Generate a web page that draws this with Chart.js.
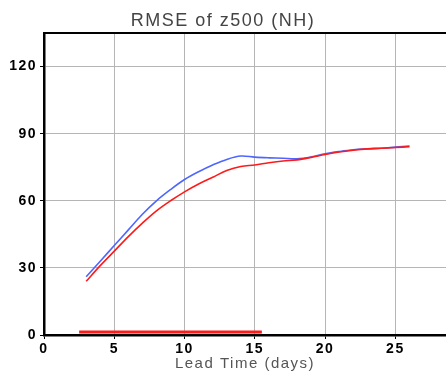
<!DOCTYPE html>
<html>
<head>
<meta charset="utf-8">
<script src="https://cdn.jsdelivr.net/npm/chart.js@4"></script>
<style>
  html, body { margin: 0; padding: 0; background: #fff; }
  #wrap { width: 446px; height: 374px; }
</style>
</head>
<body>
<div id="wrap"><canvas id="myChart" width="446" height="374"></canvas></div>
<script>
// data
const days = [3, 4, 5, 6, 7, 8, 9, 10, 11, 12, 13, 14, 15, 16, 17, 18, 19, 20, 21, 22, 23, 24, 25, 26];
const blueRmse = [26, 33, 40, 47, 54, 60, 65, 69.5, 73, 76, 78.5, 80, 79.5, 79.2, 79, 78.8, 79.6, 81, 82, 82.8, 83.2, 83.5, 84, 84.5];
const redRmse = [24, 31, 37.5, 44, 50, 55.5, 60, 64, 67.5, 70.5, 73.5, 75.3, 76, 77, 77.8, 78.3, 79.4, 80.7, 81.8, 82.6, 83.2, 83.5, 83.8, 84.2];
const baseDays = [2.5, 15.5];
const baseValues = [1.3, 1.3];
const xTicks = [0, 5, 10, 15, 20, 25];
const yTicks = [0, 30, 60, 90, 120];

const toPoints = (xs, ys) => xs.map((x, i) => ({ x: x, y: ys[i] }));

// 테두리 위쪽 선 + 글자 간격
const framePlugin = {
  id: 'frame',
  beforeDraw(chart) {
    chart.ctx.letterSpacing = '1.5px';
  },
  afterDraw(chart) {
    const { ctx, chartArea } = chart;
    ctx.save();
    ctx.strokeStyle = '#000';
    ctx.lineWidth = 2;
    ctx.beginPath();
    ctx.moveTo(chartArea.left, chartArea.top);
    ctx.lineTo(chartArea.right, chartArea.top);
    ctx.stroke();
    ctx.restore();
  }
};

document.addEventListener('DOMContentLoaded', function () {
  const ctx = document.getElementById('myChart').getContext('2d');

  const config = {
    type: 'line',
    data: {
      datasets: [
        {
          label: 'red',
          data: toPoints(days, redRmse),
          borderColor: '#ff1a1a',
          borderWidth: 1.6,
          pointRadius: 0,
          tension: 0.35,
          fill: false
        },
        {
          label: 'blue',
          data: toPoints(days, blueRmse),
          borderColor: '#4d66ff',
          borderWidth: 1.6,
          pointRadius: 0,
          tension: 0.35,
          fill: false
        },
        {
          label: 'base',
          data: toPoints(baseDays, baseValues),
          borderColor: '#ff1a1a',
          borderWidth: 3,
          pointRadius: 0,
          fill: false
        }
      ]
    },
    options: {
      responsive: false,
      animation: false,
      layout: { padding: 0 },
      plugins: {
        legend: { display: false },
        tooltip: { enabled: false },
        title: {
          display: true,
          text: 'RMSE of z500 (NH)',
          color: '#444',
          font: { family: 'Liberation Sans', size: 18, weight: 'normal', lineHeight: 1.2 },
          padding: { top: 10, bottom: 1.4 }
        }
      },
      scales: {
        x: {
          type: 'linear',
          min: 0,
          max: 28.6,
          afterBuildTicks: s => { s.ticks = xTicks.map(v => ({ value: v })); },
          afterFit: s => { s.height = 39; },
          ticks: {
            color: '#000',
            padding: 2,
            maxRotation: 0,
            font: { family: 'Liberation Sans', size: 14, weight: 'bold' }
          },
          grid: { color: '#b5b5b5', lineWidth: 1, drawTicks: true, tickLength: 4, tickColor: '#000' },
          border: { color: '#000', width: 2.5 },
          title: {
            display: true,
            text: 'Lead Time (days)',
            color: '#555',
            font: { family: 'Liberation Sans', size: 15, lineHeight: 1.2 },
            padding: { top: 0, bottom: 1 }
          }
        },
        y: {
          min: 0,
          max: 135,
          afterBuildTicks: s => { s.ticks = yTicks.map(v => ({ value: v })); },
          afterFit: s => { s.width = 44; },
          ticks: {
            color: '#000',
            padding: 3,
            font: { family: 'Liberation Sans', size: 14, weight: 'bold' }
          },
          grid: { color: '#b5b5b5', lineWidth: 1, drawTicks: true, tickLength: 4, tickColor: '#000' },
          border: { color: '#000', width: 2.5 }
        }
      }
    },
    plugins: [framePlugin]
  };

  new Chart(ctx, config);
});
</script>
</body>
</html>
